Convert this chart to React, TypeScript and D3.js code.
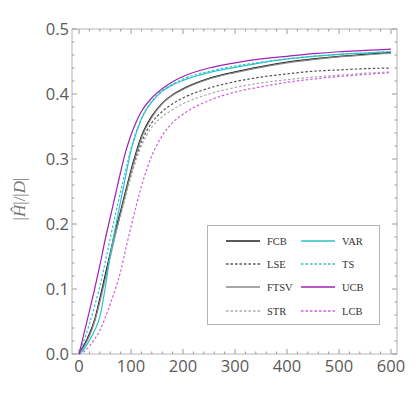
import * as d3 from "d3";

// sample points (x) shared by all series
const steps = [0, 10, 20, 30, 40, 50, 60, 70, 80, 90, 100, 110, 120, 140, 160, 180, 200, 250, 300, 350, 400, 450, 500, 550, 600];

const fcb = [0, 0.014, 0.031, 0.053, 0.085, 0.12, 0.155, 0.19, 0.22, 0.252, 0.283, 0.311, 0.335, 0.366, 0.386, 0.399, 0.408, 0.424, 0.434, 0.442, 0.449, 0.454, 0.458, 0.461, 0.464];
const lse = [0, 0.013, 0.03, 0.052, 0.083, 0.118, 0.152, 0.186, 0.216, 0.247, 0.277, 0.304, 0.326, 0.356, 0.373, 0.385, 0.394, 0.409, 0.419, 0.426, 0.431, 0.435, 0.437, 0.439, 0.44];
const ftsv = [0, 0.012, 0.028, 0.05, 0.08, 0.114, 0.15, 0.185, 0.216, 0.248, 0.279, 0.307, 0.332, 0.364, 0.385, 0.398, 0.407, 0.423, 0.433, 0.441, 0.448, 0.453, 0.457, 0.46, 0.463];
const str = [0, 0.012, 0.029, 0.05, 0.081, 0.115, 0.149, 0.183, 0.213, 0.244, 0.273, 0.299, 0.32, 0.349, 0.365, 0.376, 0.385, 0.4, 0.41, 0.417, 0.422, 0.426, 0.429, 0.432, 0.434];
const varS = [0, 0.008, 0.021, 0.036, 0.057, 0.1, 0.152, 0.195, 0.235, 0.275, 0.313, 0.34, 0.362, 0.388, 0.404, 0.414, 0.421, 0.433, 0.441, 0.448, 0.454, 0.458, 0.461, 0.463, 0.465];
const ts = [0, 0.022, 0.046, 0.074, 0.104, 0.14, 0.178, 0.215, 0.25, 0.284, 0.316, 0.342, 0.362, 0.389, 0.405, 0.415, 0.423, 0.435, 0.443, 0.449, 0.454, 0.458, 0.461, 0.463, 0.465];
const ucb = [0, 0.033, 0.066, 0.1, 0.136, 0.175, 0.21, 0.245, 0.28, 0.312, 0.337, 0.357, 0.373, 0.394, 0.408, 0.419, 0.427, 0.44, 0.448, 0.454, 0.458, 0.462, 0.465, 0.467, 0.469];
const lcb = [0, 0.004, 0.012, 0.023, 0.036, 0.055, 0.077, 0.1, 0.127, 0.162, 0.196, 0.228, 0.258, 0.305, 0.336, 0.356, 0.369, 0.39, 0.403, 0.411, 0.418, 0.423, 0.427, 0.43, 0.433];

const xTicks = [0, 100, 200, 300, 400, 500, 600];
const yTicks = [0, 0.1, 0.2, 0.3, 0.4, 0.5];

type Series = { name: string; values: number[]; color: string; dash?: string };

const series: Series[] = [
  { name: "FCB", values: fcb, color: "#222222" },
  { name: "LSE", values: lse, color: "#555555", dash: "2.5,2" },
  { name: "FTSV", values: ftsv, color: "#888888" },
  { name: "STR", values: str, color: "#aaaaaa", dash: "2.5,2" },
  { name: "VAR", values: varS, color: "#2cc3c6" },
  { name: "TS", values: ts, color: "#2cc3c6", dash: "2.5,2" },
  { name: "UCB", values: ucb, color: "#a020b8" },
  { name: "LCB", values: lcb, color: "#d45ae0", dash: "2.5,2" },
];

const W = 416;
const H = 396;
const frame = { left: 72, right: 397, top: 29, bottom: 354 };

export default function App() {
  const x = d3.scaleLinear().domain([-13.5, 611.5]).range([frame.left, frame.right]);
  const y = d3.scaleLinear().domain([0, 0.5]).range([frame.bottom, frame.top]);

  const line = d3
    .line<number>()
    .x((_, i) => x(steps[i]))
    .y((d) => y(d))
    .curve(d3.curveMonotoneX);

  const xMinor = d3.range(0, 601, 20).filter((v) => v % 100 !== 0);
  const yMinor = d3.range(0, 0.501, 0.02).filter((v) => Math.abs(v * 10 - Math.round(v * 10)) > 1e-6);

  const tickCol = "#9a9a9a";
  const labelCol = "#5a5a5a";

  // draw dashed first so solid lines sit on top
  const drawOrder = [...series].sort((a, b) => (a.dash ? 0 : 1) - (b.dash ? 0 : 1));

  const legend = { x: 207.5, y: 225.5, w: 172, h: 99, row: 23.4 };

  return (
    <svg width={W} height={H} style={{ position: "absolute", left: 0, top: 0, background: "#fff" }}>
      {/* frame */}
      <rect
        x={frame.left}
        y={frame.top}
        width={frame.right - frame.left}
        height={frame.bottom - frame.top}
        fill="none"
        stroke="#b4b4b4"
      />

      {/* ticks on all four sides */}
      <g stroke={tickCol} strokeWidth={1}>
        {xTicks.map((t) => (
          <g key={"xt" + t}>
            <line x1={x(t)} x2={x(t)} y1={frame.bottom} y2={frame.bottom - 5} />
            <line x1={x(t)} x2={x(t)} y1={frame.top} y2={frame.top + 5} />
          </g>
        ))}
        {xMinor.map((t) => (
          <g key={"xm" + t}>
            <line x1={x(t)} x2={x(t)} y1={frame.bottom} y2={frame.bottom - 2.5} />
            <line x1={x(t)} x2={x(t)} y1={frame.top} y2={frame.top + 2.5} />
          </g>
        ))}
        {yTicks.map((t) => (
          <g key={"yt" + t}>
            <line x1={frame.left} x2={frame.left + 5} y1={y(t)} y2={y(t)} />
            <line x1={frame.right} x2={frame.right - 5} y1={y(t)} y2={y(t)} />
          </g>
        ))}
        {yMinor.map((t) => (
          <g key={"ym" + t}>
            <line x1={frame.left} x2={frame.left + 2.5} y1={y(t)} y2={y(t)} />
            <line x1={frame.right} x2={frame.right - 2.5} y1={y(t)} y2={y(t)} />
          </g>
        ))}
      </g>

      {/* tick labels */}
      <g fill={labelCol} fontFamily="'Open Sans', sans-serif" fontSize={16.5}>
        {xTicks.map((t) => (
          <text key={"xl" + t} x={x(t)} y={frame.bottom + 18} textAnchor="middle">
            {t}
          </text>
        ))}
        {yTicks.map((t) => (
          <text key={"yl" + t} x={frame.left - 3} y={y(t) + 6} textAnchor="end">
            {t.toFixed(1)}
          </text>
        ))}
      </g>

      {/* axis label */}
      <text
        transform="translate(25,199) rotate(-90)"
        textAnchor="middle"
        fill="#777"
        fontFamily="'Liberation Serif', serif"
        fontSize={17}
      >
        |<tspan fontStyle="italic">Ĥ</tspan>|/|<tspan fontStyle="italic">D</tspan>|
      </text>

      {/* curves */}
      <g fill="none">
        {drawOrder.map((s) => (
          <path key={"c-" + s.name} d={line(s.values) ?? ""} stroke={s.color} strokeWidth={1.2} strokeDasharray={s.dash} />
        ))}
      </g>

      {/* legend: two columns, four rows */}
      <rect x={legend.x} y={legend.y} width={legend.w} height={legend.h} fill="#fff" stroke="#b4b4b4" />
      <g fill="none">
        {series.map((s, i) => {
          const lx = Math.round(legend.x + 18 + Math.floor(i / 4) * 75);
          const ly = Math.round(legend.y + 15 + (i % 4) * legend.row);
          return (
            <path
              key={"ls-" + s.name}
              d={`M${lx},${ly}h34`}
              stroke={s.color}
              strokeWidth={1.6}
              strokeDasharray={s.dash ?? "none"}
            />
          );
        })}
      </g>
      <g fill="#333" fontFamily="'Liberation Serif', serif" fontSize={10.5}>
        {series.map((s, i) => {
          const lx = Math.round(legend.x + 18 + Math.floor(i / 4) * 75);
          const ly = Math.round(legend.y + 15 + (i % 4) * legend.row);
          return (
            <text key={"lt-" + s.name} x={lx + 41} y={ly + 4}>
              {s.name}
            </text>
          );
        })}
      </g>
    </svg>
  );
}
